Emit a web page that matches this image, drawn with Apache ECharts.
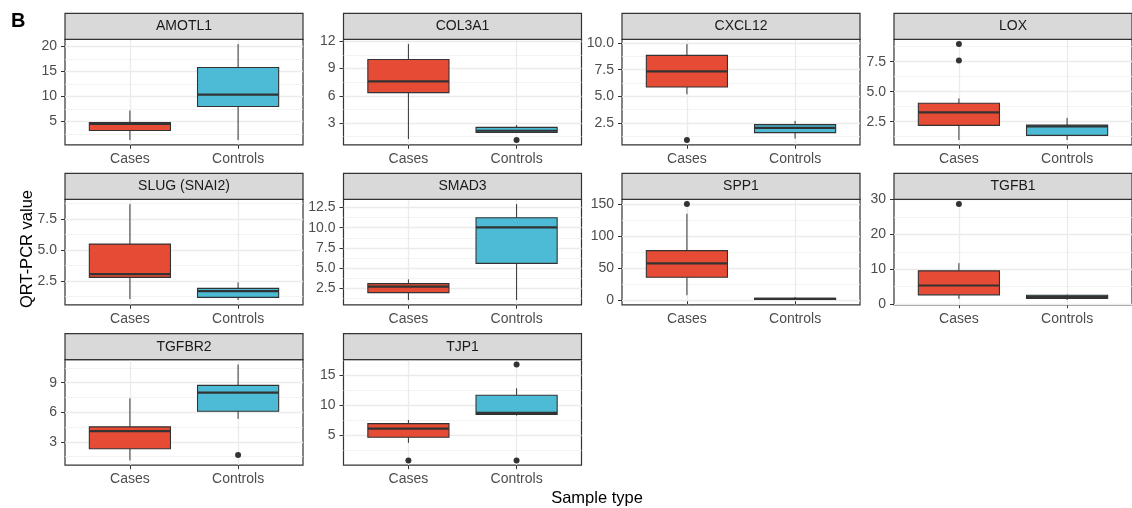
<!DOCTYPE html>
<html><head><meta charset="utf-8">
<script src="https://cdn.jsdelivr.net/npm/echarts@6/dist/echarts.min.js"></script>
<style>html,body{margin:0;padding:0;background:#fff}#c{width:1132px;height:508px}</style>
</head><body><div id="c"></div>
<script>
// ---------------- data ----------------
const genes = ['AMOTL1','COL3A1','CXCL12','LOX','SLUG (SNAI2)','SMAD3','SPP1','TGFB1','TGFBR2','TJP1'];
const groups = ['Cases','Controls'];
// [lower whisker, Q1, median, Q3, upper whisker]
const casesBox = [
  [1.3, 3.2, 4.5, 4.8, 7.2],
  [1.25, 6.36, 7.6, 10.0, 11.7],
  [5.19, 5.88, 7.34, 8.84, 9.9],
  [0.97, 2.19, 3.28, 4.03, 4.44],
  [1.05, 2.80, 3.06, 5.48, 8.71],
  [1.06, 1.97, 2.71, 3.08, 3.61],
  [8.3, 36.2, 57.9, 77.6, 135],
  [1.53, 2.67, 5.35, 9.55, 11.75],
  [1.11, 2.29, 4.08, 4.52, 7.42],
  [3.8, 4.73, 6.15, 6.97, 7.57]
];
const controlsBox = [
  [1.3, 8.0, 10.4, 15.8, 20.5],
  [1.95, 1.98, 2.16, 2.53, 2.78],
  [1.03, 1.59, 2.03, 2.34, 2.69],
  [0.97, 1.36, 2.11, 2.22, 2.81],
  [0.97, 1.18, 1.69, 1.91, 2.39],
  [1.06, 5.59, 10.03, 11.22, 12.91],
  [0.8, 1.8, 2.5, 3.6, 5.5],
  [1.2, 1.62, 2.1, 2.58, 2.77],
  [5.33, 6.1, 7.99, 8.73, 10.85],
  [8.3, 8.5, 8.75, 11.67, 12.81]
];
const casesOutliers = [[], [], [0.9], [8.97, 7.61], [], [], [150], [28.65], [], [0.9]];
const controlsOutliers = [[], [1.14], [], [], [], [], [], [], [1.65], [16.75, 0.9]];
const yTickLabels = [
  ['5','10','15','20'],
  ['3','6','9','12'],
  ['2.5','5.0','7.5','10.0'],
  ['2.5','5.0','7.5'],
  ['2.5','5.0','7.5'],
  ['2.5','5.0','7.5','10.0','12.5'],
  ['0','50','100','150'],
  ['0','10','20','30'],
  ['3','6','9'],
  ['5','10','15']
];
const yTitle = 'QRT-PCR value';
const xTitle = 'Sample type';
const panelTag = 'B';

// ---------------- layout & style ----------------
const colLeft = [65, 343.5, 622, 894];
const panelW = 238;
const stripTop = [13.3, 173.3, 333.7];
const stripH = 26;
const panelH = 105.5;
const BOX_W = 0.75;
const colors = ['#E64B35', '#4DBBD5'];
const FONT = '"Liberation Sans", Arial, sans-serif';

const chart = echarts.init(document.getElementById('c'), null, {renderer: 'canvas'});

const grids = [], xAxes = [], yAxes = [], series = [], graphics = [];

function renderBox(params, api) {
  const x = api.value(0);
  const pHi = api.coord([x, api.value(5)]);
  const pQ3 = api.coord([x, api.value(4)]);
  const pMed = api.coord([x, api.value(3)]);
  const pQ1 = api.coord([x, api.value(2)]);
  const pLo = api.coord([x, api.value(1)]);
  const hw = api.size([BOX_W, 0])[0] / 2;
  const cx = pMed[0];
  const fill = api.visual('color');
  const ln = {stroke: '#333333', lineWidth: 1};
  return {type: 'group', children: [
    {type: 'line', shape: {x1: cx, y1: pHi[1], x2: cx, y2: pQ3[1]}, style: ln},
    {type: 'line', shape: {x1: cx, y1: pQ1[1], x2: cx, y2: pLo[1]}, style: ln},
    {type: 'rect', shape: {x: cx - hw, y: pQ3[1], width: 2 * hw, height: pQ1[1] - pQ3[1]},
      style: {fill: fill, stroke: '#333333', lineWidth: 1.1}},
    {type: 'line', shape: {x1: cx - hw, y1: pMed[1], x2: cx + hw, y2: pMed[1]},
      style: {stroke: '#333333', lineWidth: 2.2}}
  ]};
}

genes.forEach((g, i) => {
  const r = Math.floor(i / 4), c = i % 4;
  const left = colLeft[c], top = stripTop[r] + stripH;
  grids.push({left: left, top: top, width: panelW, height: panelH,
    show: true, backgroundColor: '#fff', borderColor: '#333333', borderWidth: 1.2, containLabel: false});

  // y range as ggplot: data range expanded by 5%
  const all = casesBox[i].concat(controlsBox[i], casesOutliers[i], controlsOutliers[i]);
  const dmin = Math.min(...all), dmax = Math.max(...all);
  const pad = (dmax - dmin) * 0.05;
  const ymin = dmin - pad, ymax = dmax + pad;

  const labels = yTickLabels[i];
  const majors = labels.map(Number);
  const step = majors[1] - majors[0];
  const minors = [];
  for (let k = -1; k < majors.length; k++) {
    const m = majors[0] + (k + 0.5) * step;
    if (m > ymin && m < ymax) minors.push(m);
  }

  xAxes.push({type: 'value', gridIndex: i, min: 0.4, max: 2.6, position: 'bottom',
    axisLine: {show: false},
    axisTick: {show: true, length: 4, customValues: [1, 2], lineStyle: {color: '#333333', width: 1}},
    axisLabel: {show: true, customValues: [1, 2], margin: 7, color: '#4D4D4D', fontSize: 14, fontFamily: FONT,
      formatter: v => groups[Math.round(v) - 1]},
    splitLine: {show: true, lineStyle: {color: '#EBEBEB', width: 1.3}}
  });
  // minor grid axis
  yAxes.push({type: 'value', gridIndex: i, min: ymin, max: ymax, z: 0, position: 'left', offset: 0,
    axisLine: {show: false}, axisLabel: {show: false},
    axisTick: {show: false, customValues: minors},
    splitLine: {show: true, lineStyle: {color: '#F0F0F0', width: 0.8}}
  });
  // major axis
  yAxes.push({type: 'value', gridIndex: i, min: ymin, max: ymax, z: 1, position: 'left', offset: 0,
    axisLine: {show: false},
    axisTick: {show: true, length: 4, customValues: majors, lineStyle: {color: '#333333', width: 1}},
    axisLabel: {show: true, customValues: majors, margin: 8, color: '#4D4D4D', fontSize: 14, fontFamily: FONT,
      formatter: v => { const k = majors.indexOf(v); return k >= 0 ? labels[k] : ''; }},
    splitLine: {show: true, lineStyle: {color: '#EBEBEB', width: 1.3}}
  });
  const yIdx = yAxes.length - 1;

  [casesBox, controlsBox].forEach((src, gi) => {
    series.push({type: 'custom', xAxisIndex: i, yAxisIndex: yIdx, z: 3,
      itemStyle: {color: colors[gi]},
      renderItem: renderBox,
      encode: {x: 0, y: [1, 2, 3, 4, 5]},
      data: [[gi + 1].concat(src[i])]
    });
  });
  const pts = [];
  casesOutliers[i].forEach(v => pts.push([1, v]));
  controlsOutliers[i].forEach(v => pts.push([2, v]));
  series.push({type: 'scatter', xAxisIndex: i, yAxisIndex: yIdx, z: 4, symbolSize: 6,
    itemStyle: {color: '#333333', opacity: 1}, data: pts});

  // strip
  graphics.push({type: 'rect', shape: {x: left, y: stripTop[r], width: panelW, height: stripH},
    style: {fill: '#D9D9D9', stroke: '#333333', lineWidth: 1.2}, z: 10});
  graphics.push({type: 'text', x: left + panelW / 2, y: stripTop[r] + stripH / 2,
    style: {text: g, fill: '#1A1A1A', font: '14px ' + FONT, textAlign: 'center', textVerticalAlign: 'middle'}, z: 11});
});

graphics.push({type: 'text', x: 11, y: 21, style: {text: panelTag, fill: '#000', font: 'bold 20px ' + FONT,
  textAlign: 'left', textVerticalAlign: 'middle'}});
graphics.push({type: 'text', x: 27, y: 249, rotation: Math.PI / 2,
  style: {text: yTitle, fill: '#000', font: '16.5px ' + FONT, textAlign: 'center', textVerticalAlign: 'middle'}});
graphics.push({type: 'text', x: 597, y: 498,
  style: {text: xTitle, fill: '#000', font: '16.5px ' + FONT, textAlign: 'center', textVerticalAlign: 'middle'}});

chart.setOption({
  animation: false,
  backgroundColor: '#fff',
  grid: grids, xAxis: xAxes, yAxis: yAxes, series: series, graphic: graphics
});
</script></body></html>
